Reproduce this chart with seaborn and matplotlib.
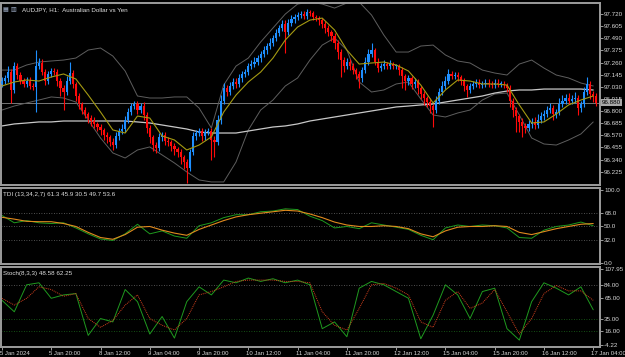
import numpy as np
import matplotlib
matplotlib.use('Agg')
import matplotlib.pyplot as plt
import matplotlib.transforms as mtransforms
import seaborn as sns

# ---- AUDJPY H1 candles (close of each bar, open = previous close) ----
first_open = 97.06
closes = [
    97.09, 97.11, 97.17, 97.00, 97.23, 97.14, 97.09, 97.06, 97.09, 97.04, 97.03, 97.23, 97.26, 97.17, 97.09, 97.15,
    97.18, 97.17, 97.09, 97.02, 96.98, 97.09, 97.16, 97.06, 96.94, 96.87, 96.81, 96.77, 96.73, 96.71, 96.68, 96.65,
    96.62, 96.57, 96.55, 96.51, 96.48, 96.56, 96.61, 96.63, 96.72, 96.79, 96.85, 96.87, 96.81, 96.85, 96.76, 96.64,
    96.55, 96.48, 96.45, 96.55, 96.57, 96.52, 96.51, 96.47, 96.44, 96.41, 96.36, 96.32, 96.26, 96.41, 96.56, 96.59,
    96.61, 96.56, 96.60, 96.61, 96.53, 96.51, 96.72, 96.90, 97.02, 96.98, 97.04, 97.08, 97.06, 97.11, 97.15, 97.17,
    97.23, 97.25, 97.27, 97.30, 97.34, 97.38, 97.42, 97.45, 97.49, 97.54, 97.59, 97.63, 97.55, 97.64, 97.67, 97.69,
    97.71, 97.72, 97.70, 97.74, 97.73, 97.69, 97.68, 97.66, 97.63, 97.59, 97.55, 97.51, 97.45, 97.36, 97.28, 97.23,
    97.27, 97.23, 97.19, 97.15, 97.11, 97.19, 97.27, 97.34, 97.38, 97.27, 97.21, 97.23, 97.25, 97.23, 97.25, 97.23,
    97.23, 97.19, 97.13, 97.09, 97.11, 97.06, 97.08, 97.02, 96.96, 96.92, 96.89, 96.85, 96.81, 96.90, 96.98, 97.04,
    97.09, 97.15, 97.13, 97.14, 97.12, 97.09, 97.04, 97.00, 97.04, 97.06, 97.07, 97.05, 97.06, 97.07, 97.06, 97.05,
    97.07, 97.06, 97.06, 97.05, 97.02, 96.90, 96.81, 96.75, 96.70, 96.66, 96.64, 96.68, 96.70, 96.67, 96.72, 96.75,
    96.77, 96.81, 96.83, 96.77, 96.79, 96.87, 96.90, 96.92, 96.90, 96.91, 96.92, 96.83, 96.87, 96.98, 97.06, 96.96,
    96.94, 96.88,
]
upper_wick = [
    0.03, 0.03, 0.06, 0.03, 0.04, 0.03, 0.03, 0.02, 0.03, 0.03, 0.03, 0.15, 0.04, 0.03, 0.03, 0.03,
    0.03, 0.03, 0.03, 0.02, 0.03, 0.04, 0.11, 0.03, 0.02, 0.03, 0.02, 0.03, 0.02, 0.03, 0.03, 0.02,
    0.03, 0.02, 0.03, 0.02, 0.03, 0.04, 0.03, 0.05, 0.03, 0.04, 0.03, 0.03, 0.03, 0.03, 0.04, 0.03,
    0.03, 0.02, 0.03, 0.04, 0.03, 0.03, 0.03, 0.02, 0.03, 0.02, 0.03, 0.02, 0.03, 0.03, 0.04, 0.03,
    0.03, 0.03, 0.03, 0.03, 0.03, 0.03, 0.04, 0.05, 0.05, 0.03, 0.04, 0.03, 0.03, 0.04, 0.03, 0.03,
    0.03, 0.03, 0.04, 0.03, 0.03, 0.04, 0.03, 0.04, 0.03, 0.04, 0.03, 0.03, 0.03, 0.03, 0.04, 0.03,
    0.03, 0.03, 0.03, 0.03, 0.02, 0.02, 0.02, 0.02, 0.02, 0.02, 0.03, 0.02, 0.03, 0.02, 0.03, 0.03,
    0.03, 0.02, 0.03, 0.02, 0.03, 0.03, 0.04, 0.05, 0.07, 0.02, 0.03, 0.03, 0.03, 0.02, 0.03, 0.02,
    0.02, 0.02, 0.03, 0.02, 0.03, 0.02, 0.03, 0.02, 0.02, 0.03, 0.02, 0.03, 0.02, 0.04, 0.04, 0.05,
    0.04, 0.05, 0.03, 0.03, 0.03, 0.02, 0.02, 0.02, 0.03, 0.03, 0.03, 0.03, 0.03, 0.03, 0.03, 0.03,
    0.03, 0.03, 0.03, 0.03, 0.02, 0.03, 0.02, 0.03, 0.02, 0.03, 0.03, 0.04, 0.03, 0.04, 0.05, 0.04,
    0.04, 0.04, 0.05, 0.03, 0.03, 0.05, 0.05, 0.04, 0.05, 0.04, 0.06, 0.03, 0.03, 0.05, 0.06, 0.03,
    0.03, 0.03,
]
lower_wick = [
    0.03, 0.03, 0.03, 0.12, 0.03, 0.04, 0.03, 0.03, 0.03, 0.03, 0.03, 0.24, 0.03, 0.03, 0.04, 0.03,
    0.03, 0.03, 0.05, 0.08, 0.17, 0.03, 0.03, 0.04, 0.04, 0.05, 0.04, 0.04, 0.04, 0.05, 0.04, 0.04,
    0.05, 0.04, 0.05, 0.04, 0.05, 0.03, 0.03, 0.03, 0.03, 0.03, 0.03, 0.03, 0.04, 0.03, 0.04, 0.05,
    0.05, 0.06, 0.05, 0.03, 0.03, 0.04, 0.04, 0.05, 0.06, 0.05, 0.06, 0.07, 0.14, 0.03, 0.03, 0.03,
    0.03, 0.04, 0.03, 0.03, 0.19, 0.15, 0.03, 0.04, 0.03, 0.04, 0.03, 0.03, 0.04, 0.03, 0.03, 0.03,
    0.03, 0.03, 0.03, 0.03, 0.03, 0.03, 0.04, 0.03, 0.03, 0.03, 0.03, 0.03, 0.20, 0.03, 0.03, 0.03,
    0.03, 0.03, 0.03, 0.03, 0.03, 0.03, 0.03, 0.04, 0.04, 0.05, 0.04, 0.05, 0.06, 0.07, 0.16, 0.06,
    0.03, 0.04, 0.04, 0.05, 0.09, 0.03, 0.03, 0.03, 0.03, 0.03, 0.04, 0.03, 0.03, 0.03, 0.03, 0.03,
    0.03, 0.05, 0.11, 0.09, 0.04, 0.05, 0.04, 0.06, 0.05, 0.06, 0.05, 0.07, 0.16, 0.03, 0.03, 0.03,
    0.03, 0.03, 0.03, 0.03, 0.03, 0.04, 0.05, 0.07, 0.03, 0.03, 0.03, 0.03, 0.03, 0.03, 0.03, 0.03,
    0.03, 0.03, 0.03, 0.03, 0.04, 0.06, 0.07, 0.15, 0.10, 0.11, 0.05, 0.03, 0.04, 0.04, 0.03, 0.03,
    0.03, 0.03, 0.03, 0.05, 0.04, 0.03, 0.03, 0.03, 0.03, 0.03, 0.03, 0.07, 0.04, 0.03, 0.03, 0.05,
    0.05, 0.03,
]
bid = 96.880

# ---- indicator lines, read every 4th bar ----
bb_upper = [97.189, 97.189, 97.237, 97.265, 97.275, 97.284, 97.303, 97.379, 97.398, 97.322, 97.180, 96.943,
            96.924, 96.924, 96.934, 96.934, 96.829, 96.640, 97.047, 97.227, 97.303, 97.455, 97.588, 97.720,
            97.815, 97.834, 97.815, 97.777, 97.825, 97.834, 97.711, 97.521, 97.360, 97.360, 97.417, 97.426,
            97.332, 97.275, 97.256, 97.189, 97.161, 97.142, 97.246, 97.284, 97.208, 97.142, 97.114, 97.066, 97.038]
bb_lower = [96.810, 96.848, 96.877, 96.905, 96.934, 96.924, 96.886, 96.716, 96.545, 96.403, 96.355, 96.431,
            96.460, 96.384, 96.308, 96.223, 96.147, 96.128, 96.128, 96.317, 96.621, 96.810, 96.905, 97.038,
            97.114, 97.284, 97.426, 97.493, 97.379, 97.076, 96.981, 97.000, 97.057, 97.076, 96.915, 96.763,
            96.744, 96.782, 96.810, 96.905, 96.962, 96.971, 96.763, 96.545, 96.488, 96.478, 96.526, 96.583, 96.697]
ma_slow = [96.659, 96.678, 96.687, 96.697, 96.697, 96.706, 96.706, 96.706, 96.706, 96.706, 96.706, 96.697,
           96.687, 96.668, 96.649, 96.630, 96.602, 96.592, 96.592, 96.592, 96.611, 96.630, 96.649, 96.659,
           96.678, 96.706, 96.725, 96.744, 96.763, 96.782, 96.801, 96.820, 96.839, 96.848, 96.858, 96.867,
           96.886, 96.905, 96.924, 96.943, 96.971, 96.990, 97.000, 97.000, 97.009, 97.009, 97.009, 97.009, 97.000]
ma_fast = [97.038, 97.076, 97.095, 97.085, 97.123, 97.152, 97.104, 96.952, 96.791, 96.621, 96.592, 96.753,
           96.734, 96.564, 96.526, 96.431, 96.478, 96.555, 96.791, 96.952, 97.076, 97.170, 97.303, 97.474,
           97.597, 97.663, 97.682, 97.569, 97.379, 97.246, 97.256, 97.265, 97.237, 97.180, 97.047, 96.877,
           97.000, 97.095, 97.085, 97.057, 97.057, 97.047, 96.858, 96.687, 96.697, 96.772, 96.858, 96.905, 96.943]

tdi_price = [65, 55, 58, 55, 54, 55, 48, 40, 33, 31, 40, 53, 40, 44, 37, 34, 51, 55, 62, 66, 66, 70, 71, 74, 73,
             64, 58, 48, 50, 47, 55, 52, 49, 46, 38, 32, 48, 52, 50, 52, 51, 48, 35, 34, 45, 50, 52, 56, 51]
tdi_signal = [62.5, 60, 57, 56.5, 56.5, 54, 50, 42, 35, 32.6, 39, 49, 50, 45, 41, 38, 46, 52, 58, 63, 66, 68, 70,
              72, 71, 67, 62, 56, 52, 50, 50, 51, 50, 47, 40, 36, 44, 49, 50, 50, 51, 50, 42, 39, 43, 47, 50, 53, 54]
stoch_main = [62, 45, 85, 88, 65, 70, 72, 10, 35, 30, 78, 60, 12, 38, 6, 60, 82, 70, 92, 88, 95, 90, 94, 88, 92,
              85, 20, 30, 8, 80, 90, 85, 75, 65, 5, 40, 85, 70, 35, 75, 80, 20, 3, 60, 88, 80, 70, 82, 48]
stoch_signal = [65, 55, 65, 82, 78, 68, 72, 35, 22, 32, 55, 70, 35, 25, 18, 35, 70, 75, 82, 90, 92, 92, 92, 90,
                90, 88, 45, 25, 18, 50, 85, 87, 80, 70, 30, 22, 62, 75, 50, 58, 78, 45, 12, 35, 72, 84, 76, 76, 62]

tick_labels = ['5 Jan 2024', '5 Jan 20:00', '8 Jan 12:00', '9 Jan 04:00', '9 Jan 20:00', '10 Jan 12:00',
               '11 Jan 04:00', '11 Jan 20:00', '12 Jan 12:00', '15 Jan 04:00', '15 Jan 20:00',
               '16 Jan 12:00', '17 Jan 04:00']
price_ticks = [97.720, 97.605, 97.490, 97.375, 97.260, 97.145, 97.030, 96.915, 96.800, 96.685,
               96.570, 96.455, 96.340, 96.225]

sns.set_style('dark')
plt.rcParams['font.family'] = ['Liberation Sans Narrow', 'Liberation Sans', 'DejaVu Sans']
FS = 4.5

closes = np.array(closes)
opens = np.concatenate([[first_open], closes[:-1]])
highs = np.maximum(opens, closes) + np.array(upper_wick)
lows = np.minimum(opens, closes) - np.array(lower_wick)
idx = np.arange(len(closes))
sample_idx = np.arange(0, len(closes), 4)

W, H = 625, 357
fig = plt.figure(figsize=(W / 100, H / 100), dpi=100, facecolor='black')

def panel(top, bottom):
    ax = fig.add_axes([1 / W, (H - bottom) / H, 599 / W, (bottom - top) / H])
    ax.set_facecolor('black')
    for s in ax.spines.values():
        s.set_color('#9c9c9c')
        s.set_linewidth(1.4)
    ax.set_xlim(-0.32, 194.2)
    ax.yaxis.tick_right()
    ax.tick_params(axis='y', colors='#d8d8d8', labelsize=FS, length=2, width=0.5, pad=1)
    ax.tick_params(axis='x', bottom=False, labelbottom=False)
    ax.grid(False)
    return ax

ax = panel(3, 185)
ax_tdi = panel(188, 264)
ax_st = panel(267, 347)

# candles
up = closes >= opens
col = np.where(up, '#1e8fff', '#ff0a0a')
ax.vlines(idx, lows, highs, colors=col, linewidth=0.8, zorder=3)
body_h = np.maximum(np.abs(closes - opens), 0.004)
ax.bar(idx, body_h, bottom=np.minimum(opens, closes), width=0.7, color=col, linewidth=0, zorder=4)

sns.lineplot(x=sample_idx, y=bb_upper, ax=ax, color='#5e5e5e', linewidth=0.7, zorder=2)
sns.lineplot(x=sample_idx, y=bb_lower, ax=ax, color='#5e5e5e', linewidth=0.7, zorder=2)
sns.lineplot(x=sample_idx, y=ma_slow, ax=ax, color='#c8c8c8', linewidth=0.9, zorder=2)
sns.lineplot(x=sample_idx, y=ma_fast, ax=ax, color='#a59a12', linewidth=0.8, zorder=5)
ax.axhline(bid, color='#8a8a8a', linewidth=0.6, zorder=1)

ax.set_ylim(96.099, 97.825)
ax.set_yticks(price_ticks)
ax.set_yticklabels([f'{v:.3f}' for v in price_ticks])
ax.annotate(f'{bid:.3f}', xy=(1.0, bid), xycoords=('axes fraction', 'data'), xytext=(1.5, 0),
            textcoords='offset points', va='center', ha='left', fontsize=FS, color='black',
            bbox=dict(boxstyle='square,pad=0.12', fc='#a8a8a8', ec='none'), zorder=10)
ax.text(0.035, 0.975, 'AUDJPY, H1:  Australian Dollar vs Yen', transform=ax.transAxes,
        fontsize=FS, color='#e0e0e0', va='top', ha='left')
ax.text(0.004, 0.975, '\u25a6 \u25a5', transform=ax.transAxes, fontsize=FS, color='#9aa8c0', va='top',
        family='DejaVu Sans')

# TDI panel
for lv in (68, 50, 32):
    ax_tdi.axhline(lv, color='#6a6a6a', linewidth=0.6, linestyle=(0, (1, 2)))
sns.lineplot(x=sample_idx, y=tdi_price, ax=ax_tdi, color='#1f9a1f', linewidth=0.7)
sns.lineplot(x=sample_idx, y=tdi_signal, ax=ax_tdi, color='#e08a1e', linewidth=0.8)
ax_tdi.set_ylim(-1, 102.3)
ax_tdi.set_yticks([100, 68, 50, 32, 0])
ax_tdi.set_yticklabels(['100.0', '68.0', '50.0', '32.0', '0.0'])
ax_tdi.text(0.004, 0.95, 'TDI (13,34,2,7) 61.3 45.9 30.5 49.7 53.6', transform=ax_tdi.transAxes,
            fontsize=FS, color='#e0e0e0', va='top', ha='left')

# Stochastic panel
ax_st.axhline(84, color='#6a6a6a', linewidth=0.6, linestyle=(0, (1, 2)))
ax_st.axhline(35, color='#1a6a1a', linewidth=0.6, linestyle=(0, (1, 2)))
ax_st.axhline(16, color='#1a6a1a', linewidth=0.6, linestyle=(0, (1, 2)))
sns.lineplot(x=sample_idx, y=stoch_main, ax=ax_st, color='#1f9a1f', linewidth=0.7)
sns.lineplot(x=sample_idx, y=stoch_signal, ax=ax_st, color='#d2401e', linewidth=0.7, linestyle=(0, (1, 1)))
ax_st.set_ylim(-7.2, 111.4)
ax_st.set_yticks([107.95, 84, 65, 35, 16, -4.22])
ax_st.set_yticklabels(['107.95', '84.00', '65.00', '35.00', '16.00', '-4.22'])
ax_st.text(0.004, 0.95, 'Stoch(8,3,3) 48.58 62.25', transform=ax_st.transAxes,
           fontsize=FS, color='#e0e0e0', va='top', ha='left')

ax_st.set_xticks(np.arange(0, 16 * len(tick_labels), 16))
ax_st.set_xticklabels(tick_labels)
ax_st.tick_params(axis='x', bottom=True, labelbottom=True, colors='#d8d8d8', labelsize=4.3,
                  length=2, width=0.5, pad=1)
shift = mtransforms.ScaledTranslation(-2 / 100, 0, fig.dpi_scale_trans)
for t in ax_st.get_xticklabels():
    t.set_ha('left')
    t.set_transform(t.get_transform() + shift)

fig.savefig('out.png', dpi=100, facecolor='black')
